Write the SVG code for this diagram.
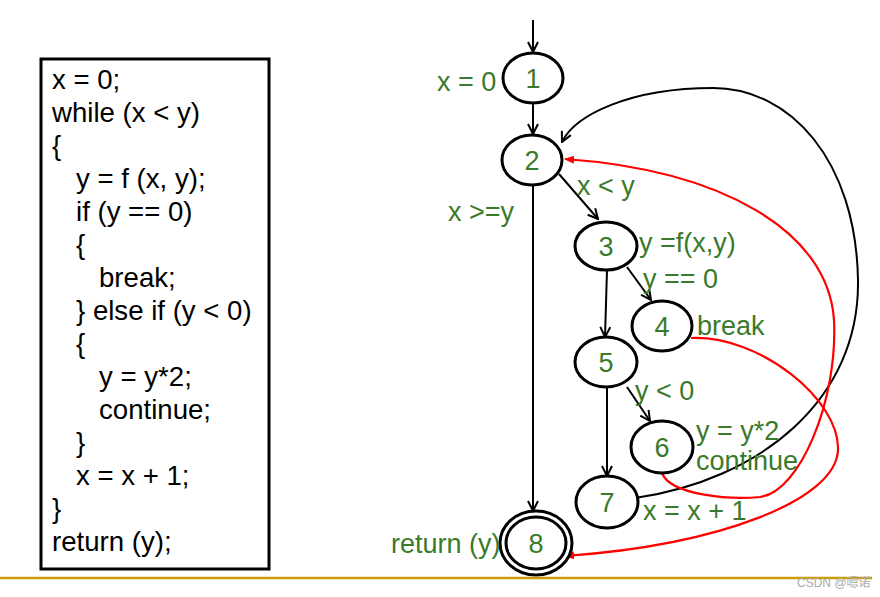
<svg xmlns="http://www.w3.org/2000/svg" width="880" height="597" viewBox="0 0 880 597">
<style>
.code{font-family:"Liberation Sans",Arial,sans-serif;font-size:27.6px;fill:#000}
.lbl{font-family:"Liberation Sans",Arial,sans-serif;font-size:27px;fill:#3a7a2a}
.num{font-family:"Liberation Sans",Arial,sans-serif;font-size:27px;fill:#3a7a2a;text-anchor:middle}
.node{fill:#fff;stroke:#000;stroke-width:3}
.edge{fill:none;stroke:#000;stroke-width:2;marker-end:url(#ab)}
.red{fill:none;stroke:#f00;stroke-width:2.2;marker-end:url(#ar)}
</style>
<defs>
<marker id="ab" viewBox="0 0 12 12" markerWidth="12" markerHeight="12" refX="11" refY="6" orient="auto" markerUnits="userSpaceOnUse">
<path d="M1,1 L11,6 L1,11" fill="none" stroke="#000" stroke-width="2"/>
</marker>
<marker id="ar" viewBox="0 0 10 8" markerWidth="10" markerHeight="8" refX="9" refY="4" orient="auto" markerUnits="userSpaceOnUse">
<path d="M0,0 L10,4 L0,8 Z" fill="#f00"/>
</marker>
</defs>
<rect width="880" height="597" fill="#fff"/>
<g id="code">
<rect x="41" y="59" width="228" height="510" fill="#fff" stroke="#000" stroke-width="3"/>
<text class="code" x="52" y="89">x = 0;</text>
<text class="code" x="52" y="122">while (x &lt; y)</text>
<text class="code" x="52" y="155">{</text>
<text class="code" x="76" y="188">y = f (x, y);</text>
<text class="code" x="76" y="221">if (y == 0)</text>
<text class="code" x="76" y="254">{</text>
<text class="code" x="99" y="287">break;</text>
<text class="code" x="76" y="320">} else if (y &lt; 0)</text>
<text class="code" x="76" y="353">{</text>
<text class="code" x="99" y="386">y = y*2;</text>
<text class="code" x="99" y="419">continue;</text>
<text class="code" x="76" y="452">}</text>
<text class="code" x="76" y="485">x = x + 1;</text>
<text class="code" x="52" y="518">}</text>
<text class="code" x="52" y="551">return (y);</text>
</g>
<g id="connectors">
<line class="edge" x1="533" y1="20" x2="533" y2="52"/>
<line class="edge" x1="533" y1="104" x2="533" y2="134"/>
<line class="edge" x1="559" y1="174" x2="598" y2="219"/>
<line class="edge" x1="533" y1="185" x2="533" y2="511"/>
<line class="edge" x1="627" y1="267" x2="651" y2="300"/>
<line class="edge" x1="607" y1="270" x2="605" y2="337"/>
<line class="edge" x1="627" y1="387" x2="650" y2="421"/>
<line class="edge" x1="607" y1="388" x2="607" y2="476"/>
<path class="edge" d="M635 498 C760 480 860 400 858 280 C856 160 790 88 713 88 C630 88 575 115 562 142"/>
<path class="red" d="M662 473 C670 495 730 500 760 497 C800 492 838 400 834 320 C828 230 720 170 565 159"/>
<path class="red" d="M691 338 C760 335 840 400 838 450 C836 500 720 545 565 556"/>
</g>
<g id="n1"><ellipse class="node" cx="533" cy="78" rx="30" ry="25"/><text class="num" x="533" y="88">1</text></g>
<g id="n2"><ellipse class="node" cx="532" cy="160" rx="30" ry="25"/><text class="num" x="532" y="170">2</text></g>
<g id="n3"><ellipse class="node" cx="606" cy="246" rx="31" ry="24"/><text class="num" x="606" y="256">3</text></g>
<g id="n4"><ellipse class="node" cx="662" cy="326" rx="30" ry="25"/><text class="num" x="662" y="336">4</text></g>
<g id="n5"><ellipse class="node" cx="606" cy="362" rx="31" ry="25"/><text class="num" x="606" y="372">5</text></g>
<g id="n6"><ellipse class="node" cx="662" cy="447" rx="31" ry="26"/><text class="num" x="662" y="457">6</text></g>
<g id="n7"><ellipse class="node" cx="607" cy="502" rx="31" ry="26"/><text class="num" x="607" y="512">7</text></g>
<g id="n8"><ellipse class="node" cx="536" cy="543" rx="36" ry="32"/><ellipse class="node" cx="536" cy="543" rx="30" ry="26"/><text class="num" x="536" y="553">8</text></g>
<g id="labels">
<text class="lbl" x="437" y="91">x = 0</text>
<text class="lbl" x="577" y="195">x &lt; y</text>
<text class="lbl" x="448" y="221">x &gt;=y</text>
<text class="lbl" x="639" y="252">y =f(x,y)</text>
<text class="lbl" x="643" y="288">y == 0</text>
<text class="lbl" x="697" y="335">break</text>
<text class="lbl" x="635" y="400">y &lt; 0</text>
<text class="lbl" x="696" y="440">y = y*2</text>
<text class="lbl" x="696" y="470">continue</text>
<text class="lbl" x="643" y="520">x = x + 1</text>
<text class="lbl" x="391" y="553">return (y)</text>
</g>
<line x1="0" y1="578" x2="872" y2="578" stroke="#cc9a06" stroke-width="2.5"/>
<text x="797" y="587" font-family="'Liberation Sans','Noto Sans CJK SC',sans-serif" font-size="12" fill="#aaa">CSDN @嗯诺</text>
</svg>
